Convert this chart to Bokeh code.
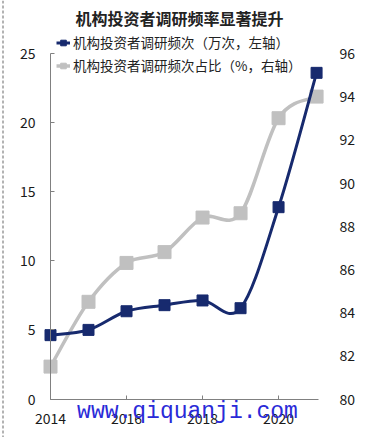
from bokeh.plotting import figure
from bokeh.models import (Range1d, LinearAxis, FixedTicker, Legend, LegendItem,
                          Label, Span, ColumnDataSource)
from bokeh.embed import file_html
from bokeh.resources import INLINE

# ---- data ----
title_text = "机构投资者调研频率显著提升"
years = [2014, 2015, 2016, 2017, 2018, 2019, 2020, 2021]
freq_wan = [4.62, 5.0, 6.35, 6.79, 7.13, 6.57, 13.88, 23.6]        # 万次, left axis
share_pct = [81.5, 84.5, 86.3, 86.8, 88.4, 88.6, 93.0, 94.0]       # %, right axis
label_freq = "机构投资者调研频次（万次，左轴）"
label_share = "机构投资者调研频次占比（%，右轴）"
x_ticks = [2014, 2016, 2018, 2020]
left_ticks = [0, 5, 10, 15, 20, 25]
right_ticks = [80, 82, 84, 86, 88, 90, 92, 94, 96]
watermark = "www.qiquanji.com"

DARK = "#172a6e"
GRAY = "#c0c0c0"
FONT = "Noto Sans CJK SC"

# ---- layout: the frame covers the whole canvas, axes are pinned with fixed_location ----
W, H = 375, 437
PX_YEAR = 38.01                     # px per year
X0_PX = 50                          # canvas x of 2014
XL = 2014 - X0_PX / PX_YEAR
XR = XL + W / PX_YEAR
ZERO_PX = 398.5                     # canvas y of value 0 / 80
PX_L = 13.82                        # px per unit, left axis
PX_R = 21.6                         # px per unit, right axis
YL_LO, YL_HI = -(H - ZERO_PX) / PX_L, ZERO_PX / PX_L
YR_LO, YR_HI = 80 - (H - ZERO_PX) / PX_R, 80 + ZERO_PX / PX_R
X_AXIS_END = 2021.05


def px_x(px):
    return XL + px / PX_YEAR


def px_y(py):
    return (ZERO_PX - py) / PX_L


def smooth_segments(xs, ys):
    """Excel-style smoothed line as cubic Bezier segments (control points from neighbours)."""
    n = len(xs)
    out = dict(x0=[], y0=[], x1=[], y1=[], cx0=[], cy0=[], cx1=[], cy1=[])
    for i in range(n - 1):
        xm, ym = (xs[i - 1], ys[i - 1]) if i > 0 else (xs[i], ys[i])
        xp, yp = (xs[i + 2], ys[i + 2]) if i + 2 < n else (xs[i + 1], ys[i + 1])
        out["x0"].append(xs[i]); out["y0"].append(ys[i])
        out["x1"].append(xs[i + 1]); out["y1"].append(ys[i + 1])
        out["cx0"].append(xs[i] + (xs[i + 1] - xm) / 6.0)
        out["cy0"].append(ys[i] + (ys[i + 1] - ym) / 6.0)
        out["cx1"].append(xs[i + 1] - (xp - xs[i]) / 6.0)
        out["cy1"].append(ys[i + 1] - (yp - ys[i]) / 6.0)
    return ColumnDataSource(out)


p = figure(width=W, height=H, output_backend="svg", toolbar_location=None, title=None,
           x_range=Range1d(XL, XR), y_range=Range1d(YL_LO, YL_HI),
           min_border_left=0, min_border_right=0, min_border_top=0, min_border_bottom=0)
p.extra_y_ranges = {"pct": Range1d(YR_LO, YR_HI)}
p.outline_line_color = None
p.xgrid.visible = False
p.ygrid.visible = False
p.background_fill_color = "white"
p.border_fill_color = "white"

# axes
xa = p.xaxis[0]
xa.fixed_location = 0
xa.bounds = (2014, X_AXIS_END)
xa.ticker = FixedTicker(ticks=x_ticks)
xa.axis_line_color = "#808080"
xa.major_tick_line_color = "#808080"
xa.major_tick_in = 4
xa.major_tick_out = 0
xa.minor_tick_line_color = None
xa.major_label_standoff = 14
xa.major_label_text_font = FONT
xa.major_label_text_font_size = "14px"
xa.major_label_text_color = "#1a1a1a"

ya = p.yaxis[0]
ya.fixed_location = 2014
ya.bounds = (0, 25)
ya.ticker = FixedTicker(ticks=left_ticks)
ya.axis_line_color = "#808080"
ya.major_tick_line_color = "#808080"
ya.major_tick_in = 4
ya.major_tick_out = 0
ya.minor_tick_line_color = None
ya.major_label_standoff = 15
ya.major_label_text_font = FONT
ya.major_label_text_font_size = "14px"
ya.major_label_text_color = "#1a1a1a"

ra = LinearAxis(y_range_name="pct", ticker=FixedTicker(ticks=right_ticks), bounds=(80, 96),
                fixed_location=X_AXIS_END)
ra.axis_line_color = None
ra.major_tick_line_color = None
ra.minor_tick_line_color = None
ra.major_label_standoff = 15
ra.major_label_text_font = FONT
ra.major_label_text_font_size = "14px"
ra.major_label_text_color = "#1a1a1a"
p.add_layout(ra, "right")

# dashed page border at the left edge
p.add_layout(Span(location=px_x(2.5), dimension="height", line_color="#9a9a9a",
                  line_width=1.5, line_dash="3 2"))

# gray series (right axis)
gs = smooth_segments(years, share_pct)
p.bezier(x0="x0", y0="y0", x1="x1", y1="y1", cx0="cx0", cy0="cy0",
         cx1="cx1", cy1="cy1", source=gs, line_color=GRAY, line_width=3.5,
         y_range_name="pct")
g_pts = p.scatter(years, share_pct, marker="square", size=13, fill_color=GRAY,
                  line_color=GRAY, y_range_name="pct")

# dark series (left axis)
ds = smooth_segments(years, freq_wan)
p.bezier(x0="x0", y0="y0", x1="x1", y1="y1", cx0="cx0", cy0="cy0",
         cx1="cx1", cy1="cy1", source=ds, line_color=DARK, line_width=3)
d_pts = p.scatter(years, freq_wan, marker="square", size=11, fill_color=DARK,
                  line_color=DARK)

# legend line proxies (for legend glyphs)
d_proxy = p.line([years[0]], [freq_wan[0]], line_color=DARK, line_width=3, visible=False)
g_proxy = p.line([years[0]], [share_pct[0]], line_color=GRAY, line_width=3.5,
                 y_range_name="pct", visible=False)

legend = Legend(items=[
    LegendItem(label=label_freq, renderers=[d_proxy, d_pts]),
    LegendItem(label=label_share, renderers=[g_proxy, g_pts]),
], location=(56, H - 75))
legend.background_fill_alpha = 0
legend.border_line_color = None
legend.label_text_font = FONT
legend.label_text_font_size = "13.5px"
legend.label_text_color = "#222222"
legend.glyph_width = 14
legend.glyph_height = 17
legend.label_height = 17
legend.label_standoff = 3
legend.spacing = 3
legend.padding = 0
legend.margin = 0
p.add_layout(legend, "center")

# title
p.add_layout(Label(x=px_x(75), y=px_y(17), text=title_text, text_align="left",
                   text_baseline="middle", text_font=FONT, text_font_size="16px",
                   text_font_style="bold", text_color="#222222"))

# watermark
p.add_layout(Label(x=px_x(187), y=px_y(411), text=watermark, text_align="center",
                   text_baseline="middle", text_font="Liberation Mono",
                   text_font_size="23px", text_color="#2a2ad8"))

open("out.html", "w").write(file_html(p, INLINE))
